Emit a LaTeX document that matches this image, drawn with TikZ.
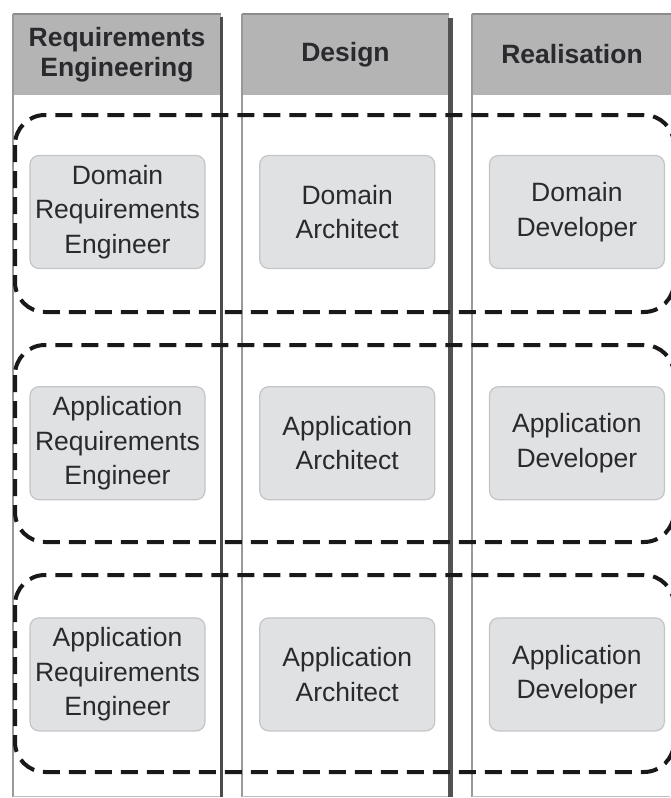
\documentclass[tikz,border=0pt]{standalone}
\usepackage{fontspec}
\setmainfont{Liberation Sans}
\usetikzlibrary{positioning}

\definecolor{headgray}{HTML}{B4B4B4}
\definecolor{boxgray}{HTML}{E0E1E3}
\definecolor{boxedge}{HTML}{C4C5C8}
\definecolor{txtgray}{HTML}{2A2A2E}

\tikzset{
  lanehead/.style={rectangle, fill=headgray, minimum height=81pt, inner sep=0pt,
    align=center, text=txtgray, font=\bfseries\fontsize{26.5}{30.5}\selectfont},
  laneleft/.style={draw=black!40, line width=2pt},
  laneright/.style={draw=black!70, line width=3pt},
  role/.style={rectangle, rounded corners=9pt, fill=boxgray, draw=boxedge, line width=1.2pt,
    minimum width=175pt, minimum height=113pt, inner sep=0pt, align=center,
    text=txtgray, font=\fontsize{26.5}{34.5}\selectfont},
  group/.style={draw=black!90, line width=4pt, dash pattern=on 17pt off 9pt, rounded corners=30pt},
}

\begin{document}
\begin{tikzpicture}[x=1pt, y=-1pt, node distance=117pt and 53.5pt]
    \useasboundingbox[fill=white] (0,0) rectangle (670,798);

    % lanes
    \node[lanehead, minimum width=208pt] (hRE) at (117,54.5) {Requirements\\Engineering};
    \node[lanehead, minimum width=207pt] (hDes) at (345.5,54.5) {Design};
    \node[lanehead, minimum width=200pt] (hReal) at (572,54.5) {Realisation};

    \draw[black!45, line width=1.5pt] (hRE.north west) -- (hRE.north east);
    \draw[black!45, line width=1.5pt] (hDes.north west) -- (hDes.north east);
    \draw[black!45, line width=1.5pt] (hReal.north west) -- (hReal.north east);

    \draw[laneleft] (hRE.north west) -- (hRE.west |- 0,797);
    \draw[laneleft] (hDes.north west) -- (hDes.west |- 0,797);
    \draw[laneleft] (hReal.north west) -- (hReal.west |- 0,797);
    \draw[laneright] ([yshift=-3pt]hRE.north east) -- (hRE.east |- 0,797);
    \draw[laneright, line width=5pt, draw=black!68] ([xshift=1.5pt, yshift=-4pt]hDes.north east) -- ([xshift=1.5pt]hDes.east |- 0,797);
    \draw[black!25, line width=1pt] (13,796.5) -- (220,796.5) (242,796.5) -- (448,796.5) (472,796.5) -- (670,796.5);

    % groups
    \draw[group] (15,115) rectangle (674,312);
    \draw[group] (15,345) rectangle (674,542);
    \draw[group] (15,575) rectangle (674,772);

    % roles
    \node[role] (dRE) at (117.5,212) {Domain\\Requirements\\Engineer};
    \node[role, right=of dRE] (dDes) {Domain\\Architect};
    \node[role, right=of dDes] (dReal) {Domain\\Developer};

    \node[role, below=of dRE] (aRE) {Application\\Requirements\\Engineer};
    \node[role, right=of aRE] (aDes) {Application\\Architect};
    \node[role, right=of aDes] (aReal) {Application\\Developer};

    \node[role, below=of aRE] (bRE) {Application\\Requirements\\Engineer};
    \node[role, right=of bRE] (bDes) {Application\\Architect};
    \node[role, right=of bDes] (bReal) {Application\\Developer};
\end{tikzpicture}
\end{document}
